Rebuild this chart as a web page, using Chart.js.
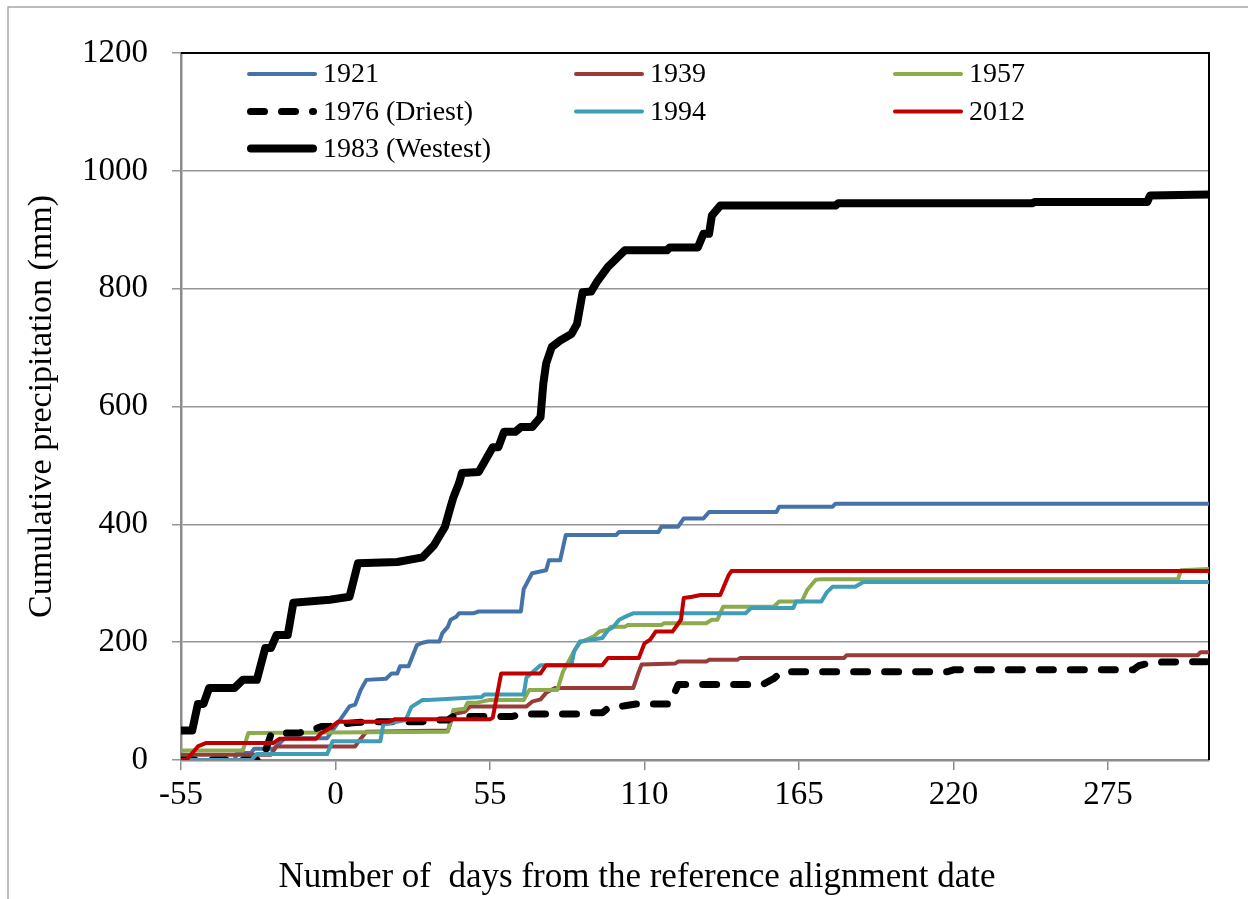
<!DOCTYPE html>
<html>
<head>
<meta charset="utf-8">
<script src="https://cdn.jsdelivr.net/npm/chart.js@4.4.1/dist/chart.umd.min.js"></script>
<style>
  html, body { margin: 0; padding: 0; background: #fff; }
  #wrap { width: 1248px; height: 899px; }
</style>
</head>
<body>
<div id="wrap"><canvas id="precip-chart" width="1248" height="899"></canvas></div>
<script>
// cumulative precipitation (day, mm)
var days1921 = [-55,-36,-35,-30,-29,-22,-18,-3,0,5,7,9,11,18,20,22,23,26,29,31,33,37,38,40,41,43,44,49,51,66,67,70,75,76,80,82,100,101,115,116,122,124,131,133,157,158,177,178,311]
var mm1921   = [0,0,12,12,19,19,37,37,57,91,94,119,136,138,147,147,159,159,195,199,201,201,215,226,238,243,249,249,252,252,290,317,322,339,339,382,382,387,387,396,396,410,410,421,421,430,430,435,435]

var days1939 = [-55,-23,-21,7,8,11,40,42,46,48,68,70,73,75,78,106,108,109,121,122,132,133,143,144,181,182,307,308,311]
var mm1939   = [9,9,23,23,30,48,50,78,82,91,91,99,103,114,122,122,150,162,164,167,167,170,170,173,173,178,178,183,183]

var days1957 = [-55,-33,-31,40,42,46,47,50,55,67,69,79,81,85,87,92,94,97,98,103,104,116,117,132,134,136,138,156,158,166,168,171,173,300,301,311]
var mm1957   = [16,16,46,48,85,87,97,97,102,102,119,119,150,185,199,210,218,221,226,226,229,229,232,232,238,238,260,260,269,269,289,306,307,307,322,324]

var days1976 = [-55,-26,-23,-21,-13,-8,-5,-2,0,6,12,31,34,40,42,63,66,86,89,95,97,103,107,119,122,152,156,159,218,220,284,286,291,311]
var mm1976   = [0,0,43,46,46,51,57,57,60,63,65,65,68,68,74,74,78,78,80,80,88,92,95,95,128,128,138,150,150,153,153,160,166,167]

var days1994 = [-55,-30,-28,-3,-1,16,17,25,27,31,33,52,53,67,68,73,84,85,87,95,97,99,101,104,106,146,148,163,164,173,175,177,185,188,311]
var mm1994   = [0,0,10,10,32,32,60,68,90,102,102,107,111,111,140,161,161,185,201,207,220,226,238,245,249,249,258,258,269,269,285,294,294,302,302]

var days2012 = [-55,-53,-49,-46,-22,-20,-7,-5,-2,1,19,21,55,56,59,73,75,95,97,108,110,112,114,120,123,124,127,130,137,140,141,311]
var mm2012   = [0,0,23,29,29,36,36,46,54,65,65,69,69,72,147,147,161,161,173,173,198,204,218,218,238,275,277,280,280,314,321,321]

var days1983 = [-55,-51,-49,-47,-45,-36,-33,-28,-25,-23,-21,-17,-15,-2,5,8,22,31,35,39,41,42,44,45,51,56,58,60,64,66,70,73,74,75,77,80,84,86,88,91,93,97,100,103,118,119,129,131,133,134,137,178,179,248,249,289,290,311]
var mm1983   = [50,50,95,95,122,122,136,136,190,190,212,212,267,272,277,334,336,344,364,396,430,446,470,487,489,531,531,557,557,565,565,582,639,673,701,712,723,740,794,795,811,837,851,865,865,870,870,893,893,924,941,941,945,945,947,947,958,960]

var xTicks = [-55, 0, 55, 110, 165, 220, 275]
var yTicks = [0, 200, 400, 600, 800, 1000, 1200]
var xTitle = 'Number of  days from the reference alignment date'
var yTitle = 'Cumulative precipitation (mm)'

var serif = "'Liberation Serif', 'DejaVu Serif', serif"

function pts(d, v) {
  var out = []
  for (var i = 0; i < d.length; i++) out.push({x: d[i], y: v[i]})
  return out
}

function line(label, d, v, color, width, order, dash) {
  return {
    label: label,
    data: pts(d, v),
    borderColor: color,
    backgroundColor: color,
    borderWidth: width,
    borderDash: dash || [],
    borderCapStyle: 'round',
    borderJoinStyle: 'round',
    pointRadius: 0,
    tension: 0,
    fill: false,
    order: order
  }
}

var datasets = [
  line('1921', days1921, mm1921, '#4672aa', 4, 6),
  line('1939', days1939, mm1939, '#993b38', 4, 5),
  line('1957', days1957, mm1957, '#8cab4c', 4, 4),
  line('1976 (Driest)', days1976, mm1976, '#000', 7, 3, [14, 17]),
  line('1994', days1994, mm1994, '#409db6', 4, 2),
  line('2012', days2012, mm2012, '#c00000', 4, 1),
  line('1983 (Westest)', days1983, mm1983, '#000', 8, 0)
]

// legend grid inside the plot (3 columns)
var legendCols = [247, 574, 893]
var legendRows = [74, 111.5, 148.5]

var gridLegend = {
  id: 'gridLegend',
  afterDraw: function(chart) {
    var ctx = chart.ctx
    ctx.save()
    chart.data.datasets.forEach(function(ds, i) {
      var x = legendCols[i % 3], y = legendRows[Math.floor(i / 3)]
      var half = ds.borderWidth / 2
      ctx.beginPath()
      ctx.strokeStyle = ds.borderColor
      ctx.lineWidth = ds.borderWidth
      ctx.lineCap = 'round'
      ctx.setLineDash(ds.borderDash)
      ctx.moveTo(x + half, y)
      ctx.lineTo(x + 70 - half, y)
      ctx.stroke()
      ctx.setLineDash([])
      ctx.fillStyle = '#000'
      ctx.font = '28px ' + serif
      ctx.textBaseline = 'middle'
      ctx.fillText(ds.label, x + 76, y + 1)
    })
    ctx.restore()
  }
}

// black top/right frame of the plot, grey outer border, x title
var frame = {
  id: 'frame',
  beforeDatasetsDraw: function(chart) {
    var a = chart.chartArea, ctx = chart.ctx
    ctx.save()
    ctx.strokeStyle = '#000'
    ctx.lineWidth = 2
    ctx.beginPath()
    ctx.moveTo(a.left, a.top)
    ctx.lineTo(a.right, a.top)
    ctx.lineTo(a.right, a.bottom)
    ctx.stroke()
    ctx.restore()
  },
  afterDraw: function(chart) {
    var ctx = chart.ctx
    ctx.save()
    ctx.strokeStyle = '#a6a6a6'
    ctx.lineWidth = 1.5
    ctx.beginPath()
    ctx.moveTo(8, 899)
    ctx.lineTo(8, 7)
    ctx.lineTo(1248, 7)
    ctx.stroke()
    ctx.fillStyle = '#000'
    ctx.font = '35px ' + serif
    ctx.textAlign = 'center'
    ctx.textBaseline = 'middle'
    ctx.fillText(xTitle, 637, 878)
    ctx.restore()
  }
}

new Chart(document.getElementById('precip-chart'), {
  type: 'line',
  data: { datasets: datasets },
  options: {
    responsive: false,
    animation: false,
    layout: { padding: { left: 0, top: 53, right: 39, bottom: 0 } },
    plugins: {
      legend: { display: false },
      tooltip: { enabled: false }
    },
    scales: {
      x: {
        type: 'linear',
        min: -55,
        max: 311,
        afterFit: function(s) { s.height = 139 },
        afterBuildTicks: function(s) { s.ticks = xTicks.map(function(v) { return {value: v} }) },
        grid: { drawOnChartArea: false, drawTicks: true, tickLength: 10, color: '#8c8c8c', lineWidth: 1.5 },
        border: { color: '#8c8c8c', width: 2.5 },
        ticks: {
          color: '#000',
          font: { family: serif, size: 33 },
          padding: 6,
          maxRotation: 0,
          autoSkip: false,
          callback: function(v) { return String(v) }
        }
      },
      y: {
        min: 0,
        max: 1200,
        afterFit: function(s) { s.width = 181 },
        afterBuildTicks: function(s) { s.ticks = yTicks.map(function(v) { return {value: v} }) },
        grid: { color: '#969696', lineWidth: 1.5, tickLength: 9 },
        border: { color: '#8c8c8c', width: 2.5 },
        ticks: {
          color: '#000',
          font: { family: serif, size: 33 },
          padding: 24,
          callback: function(v) { return String(v) }
        },
        title: {
          display: true,
          text: yTitle,
          color: '#000',
          font: { family: serif, size: 34 },
          padding: { top: 22, bottom: 0 }
        }
      }
    }
  },
  plugins: [frame, gridLegend]
});
</script>
</body>
</html>
